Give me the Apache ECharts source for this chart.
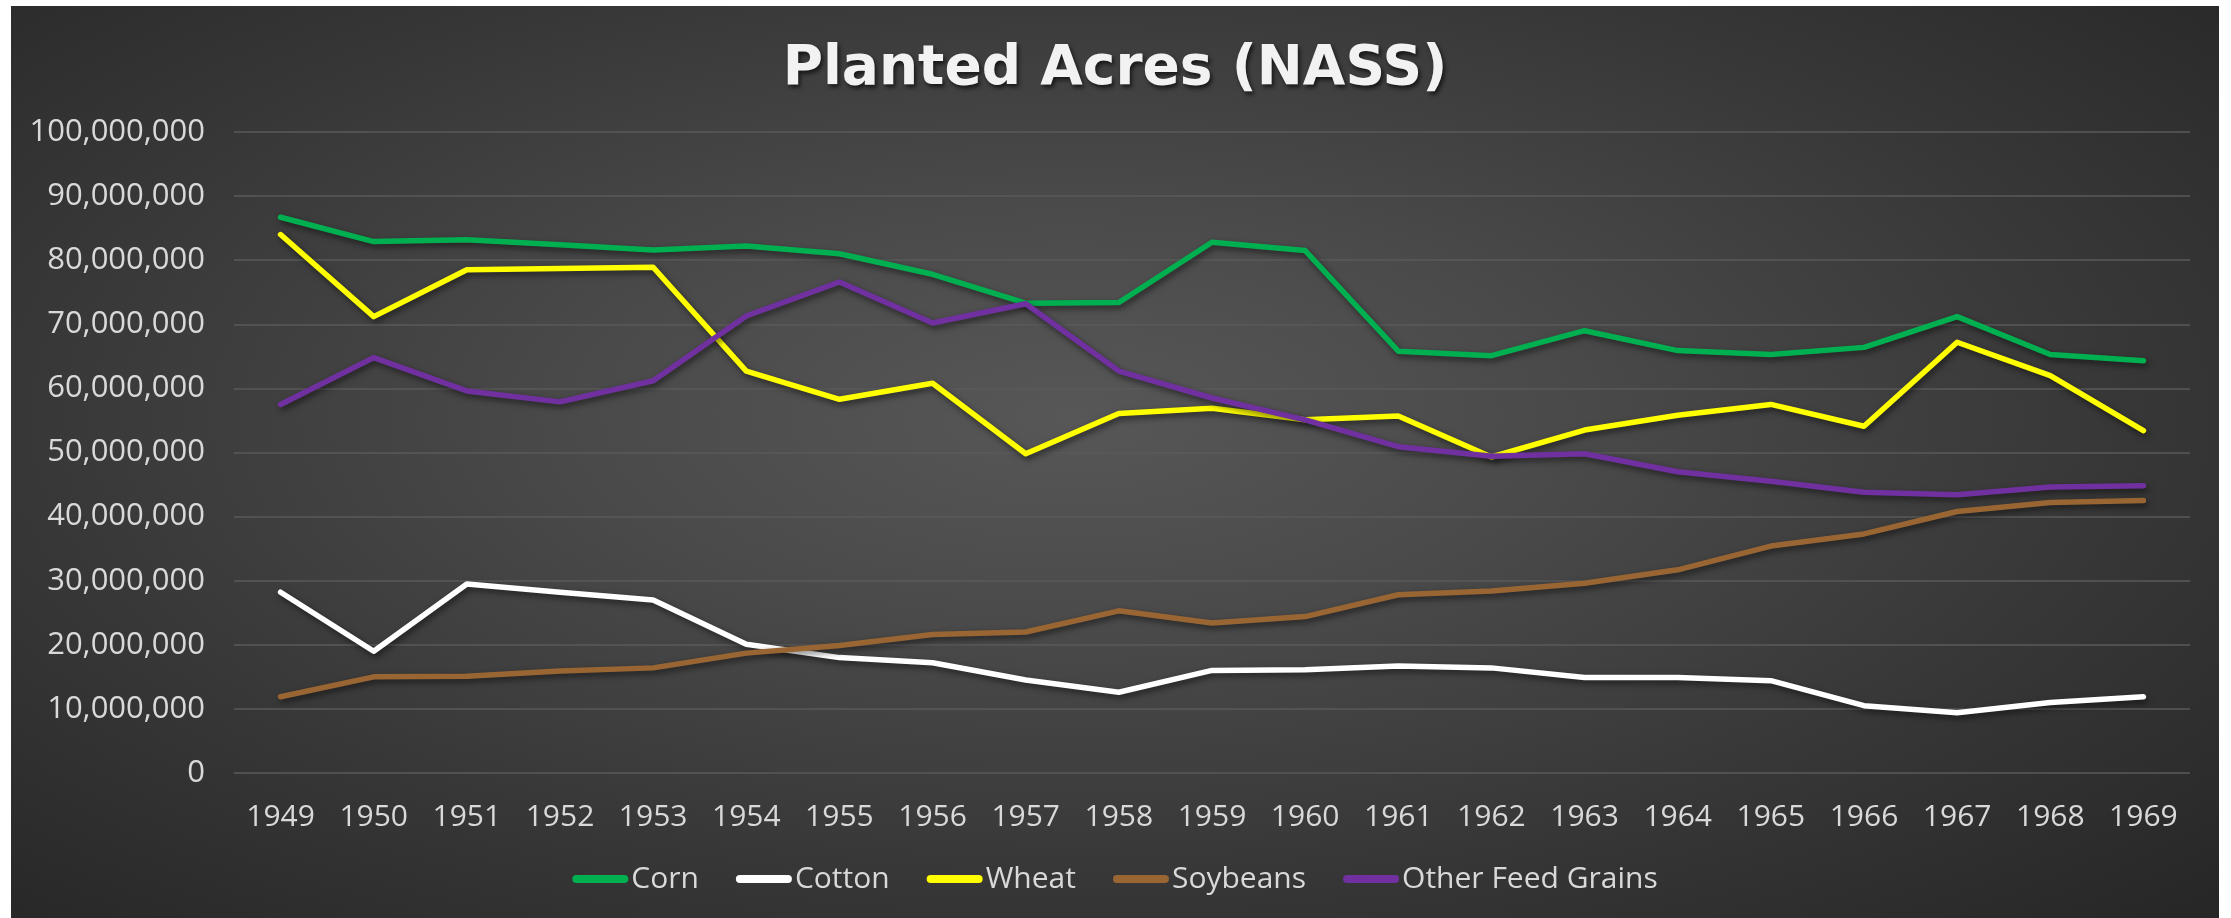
<!DOCTYPE html>
<html>
<head>
<meta charset="utf-8">
<script src="https://cdn.jsdelivr.net/npm/echarts@6/dist/echarts.min.js"></script>
<style>
  html, body { margin: 0; padding: 0; background: #ffffff; width: 2231px; height: 918px; overflow: hidden; }
  #chart {
    position: absolute; left: 11px; top: 6px; width: 2208px; height: 912px;
    background: radial-gradient(ellipse at 48% 45%, #575757 0%, #4a4a4a 30%, #373737 65%, #262626 100%);
  }
</style>
</head>
<body>
<div id="chart"></div>
<script>
const years = ['1949','1950','1951','1952','1953','1954','1955','1956','1957','1958','1959','1960','1961','1962','1963','1964','1965','1966','1967','1968','1969'];
const corn = [86.7, 82.9, 83.2, 82.4, 81.6, 82.2, 81.0, 77.8, 73.3, 73.4, 82.8, 81.5, 65.8, 65.1, 69.0, 65.9, 65.3, 66.4, 71.2, 65.3, 64.3];
const cotton = [28.2, 19.0, 29.5, 28.2, 27.0, 20.1, 18.0, 17.2, 14.5, 12.6, 16.0, 16.1, 16.7, 16.4, 14.9, 14.9, 14.4, 10.5, 9.4, 11.0, 11.9];
const wheat = [84.0, 71.2, 78.5, 78.7, 78.9, 62.7, 58.3, 60.8, 49.8, 56.1, 56.9, 55.1, 55.7, 49.3, 53.5, 55.8, 57.5, 54.1, 67.2, 62.0, 53.4];
const soybeans = [11.9, 15.0, 15.1, 15.9, 16.4, 18.7, 19.9, 21.6, 22.0, 25.3, 23.4, 24.4, 27.8, 28.4, 29.6, 31.7, 35.4, 37.3, 40.8, 42.2, 42.5];
const otherFeedGrains = [57.5, 64.8, 59.6, 57.9, 61.2, 71.3, 76.6, 70.2, 73.2, 62.7, 58.5, 55.1, 50.9, 49.4, 49.8, 47.0, 45.5, 43.8, 43.4, 44.6, 44.8];
const seriesNames = ['Corn', 'Cotton', 'Wheat', 'Soybeans', 'Other Feed Grains'];
const seriesColors = ['#00B050', '#FFFFFF', '#FFFF00', '#996633', '#7030A0'];
const MILLION = 1000000;

const dataSets = [corn, cotton, wheat, soybeans, otherFeedGrains];
const textColor = '#d9d9d9';
const font = 'Open Sans';

const chart = echarts.init(document.getElementById('chart'), null, { renderer: 'canvas' });
const option = {
  backgroundColor: 'transparent',
  animation: false,
  title: {
    text: 'Planted Acres (NASS)',
    left: 'center',
    top: 31,
    textStyle: {
      fontFamily: 'DejaVu Sans',
      fontWeight: 'bold',
      fontSize: 55,
      color: '#f2f2f2',
      textShadowColor: 'rgba(0,0,0,0.65)',
      textShadowBlur: 4,
      textShadowOffsetX: 2,
      textShadowOffsetY: 3
    }
  },
  grid: { left: 223, right: 29, top: 126, bottom: 145, containLabel: false },
  legend: {
    data: seriesNames,
    top: 853,
    left: 'center',
    itemWidth: 56,
    itemHeight: 8,
    itemGap: 37,
    icon: 'path://M4,0 L52,0 A4,4 0 0 1 52,8 L4,8 A4,4 0 0 1 4,0 Z',
    textStyle: { color: textColor, fontFamily: font, fontSize: 30, padding: [0, 0, 0, -2] }
  },
  xAxis: {
    type: 'category',
    data: years,
    boundaryGap: true,
    axisLine: { show: false },
    axisTick: { show: false },
    axisLabel: { color: textColor, fontFamily: font, fontSize: 30, margin: 29 }
  },
  yAxis: {
    type: 'value',
    min: 0,
    max: 100 * MILLION,
    interval: 10 * MILLION,
    axisLine: { show: false },
    axisTick: { show: false },
    splitLine: { lineStyle: { color: '#5a5a5a', width: 1.5 } },
    axisLabel: {
      color: textColor, fontFamily: font, fontSize: 31, margin: 29,
      formatter: v => v.toLocaleString('en-US')
    }
  },
  series: seriesNames.map((name, i) => ({
    name: name,
    type: 'line',
    data: dataSets[i].map(v => Math.round(v * MILLION)),
    symbol: 'none',
    showSymbol: false,
    smooth: false,
    itemStyle: { color: seriesColors[i] },
    lineStyle: {
      color: seriesColors[i],
      width: 5.5,
      cap: 'round',
      join: 'round',
      shadowColor: 'rgba(0,0,0,0.55)',
      shadowBlur: 6,
      shadowOffsetX: 2,
      shadowOffsetY: 3
    },
    z: 2 + i
  }))
};
chart.setOption(option);
</script>
</body>
</html>
